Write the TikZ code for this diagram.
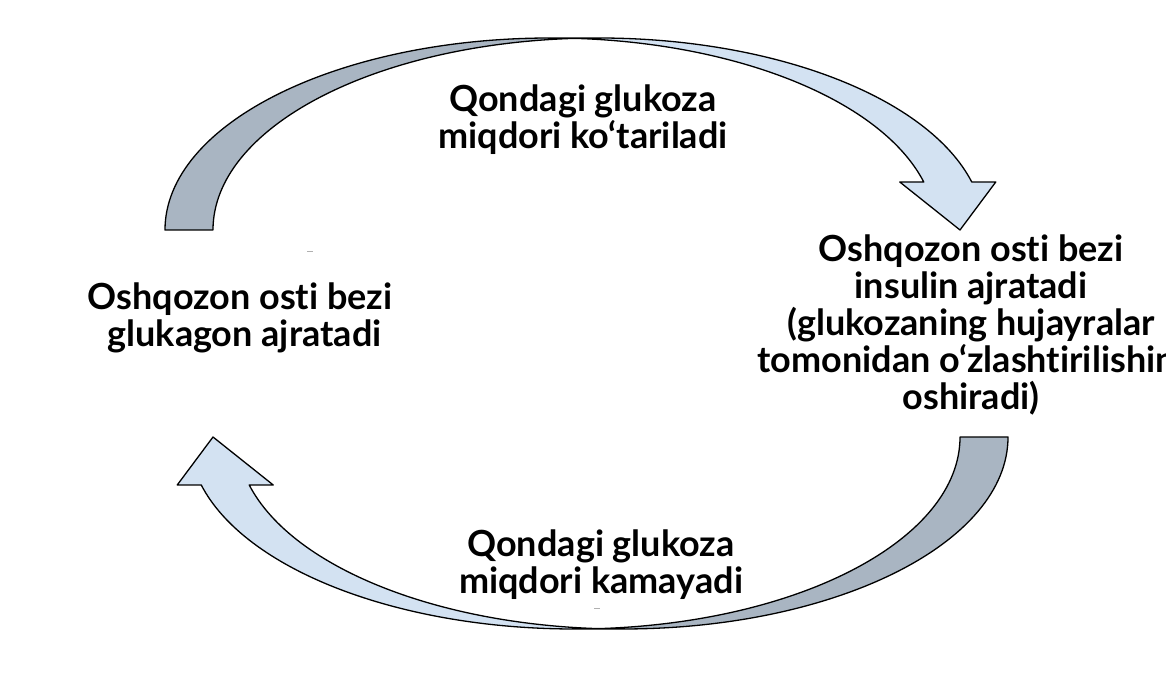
\documentclass[tikz,border=0pt]{standalone}
\usepackage{fontspec}
\setmainfont{Lato}[Ligatures={TeX,NoCommon}]
\definecolor{lightfill}{HTML}{D3E2F2}
\definecolor{darkfill}{HTML}{A9B5C2}
\definecolor{tickgray}{HTML}{B0B0B0}
\begin{document}
\begin{tikzpicture}[x=1pt,y=1pt,
  front/.style={fill=lightfill, draw=none},
  back/.style={fill=darkfill, draw=none},
  outline/.style={draw=black, line width=1.3pt, line join=round},
  lbl/.style={font=\fontsize{36}{37}\selectfont\bfseries, align=center, inner sep=0pt},
  ell/.style={x radius=385.5pt, y radius=192pt},
  tick/.style={draw=tickgray, line width=1pt}]
\useasboundingbox (0,0) rectangle (1166,692);

% ---- top curved arrow ----
\fill[front] (960,462) -- (899.759,510) -- (923.759,510)
  arc[ell,start angle=14.4775,end angle=90] -- (598.5,654)
  arc[ell,start angle=90,end angle=14.4775] -- (995.759,510) -- cycle;
\fill[back] (574.5,653.627) arc[ell,start angle=93.569,end angle=180] -- (165,462)
  arc[ell,start angle=180,end angle=86.431] -- cycle;
\draw[outline] (574.5,653.627) arc[ell,start angle=93.569,end angle=180] -- (165,462)
  arc[ell,start angle=180,end angle=90] -- (598.5,654)
  arc[ell,start angle=90,end angle=14.4775] -- (995.759,510) -- (960,462)
  -- (899.759,510) -- (923.759,510) arc[ell,start angle=14.4775,end angle=90];

% ---- bottom curved arrow ----
\fill[front] (213,255) -- (273.241,207) -- (249.241,207)
  arc[ell,start angle=194.4775,end angle=270] -- (574.5,63)
  arc[ell,start angle=270,end angle=194.4775] -- (177.241,207) -- cycle;
\fill[back] (598.5,63.373) arc[ell,start angle=273.569,end angle=360] -- (1008,255)
  arc[ell,start angle=360,end angle=266.431] -- cycle;
\draw[outline] (598.5,63.373) arc[ell,start angle=273.569,end angle=360] -- (1008,255)
  arc[ell,start angle=360,end angle=270] -- (574.5,63)
  arc[ell,start angle=270,end angle=194.4775] -- (177.241,207) -- (213,255)
  -- (273.241,207) -- (249.241,207) arc[ell,start angle=194.4775,end angle=270];

% ---- small gray marks ----
\coordinate (m1a) at (307,440); \coordinate (m1b) at (313,440);
\coordinate (m2a) at (594,83);  \coordinate (m2b) at (600,83);
\draw[tick] (m1a) -- (m1b);
\draw[tick] (m2a) -- (m2b);

% ---- texts ----
\node[lbl] (rise) at (583,572) {Qondagi glukoza\\miqdori ko‘tariladi};
\node[lbl] (glucagon) at (240,374) {Oshqozon osti bezi\\\hspace*{9pt}glukagon ajratadi};
\node[lbl] (insulin) at (971,367) {Oshqozon osti bezi\\insulin ajratadi\\(glukozaning hujayralar\\tomonidan o‘zlashtirilishini\\oshiradi)};
\node[lbl] (fall) at (601,127) {Qondagi glukoza\\miqdori kamayadi};
\end{tikzpicture}
\end{document}
